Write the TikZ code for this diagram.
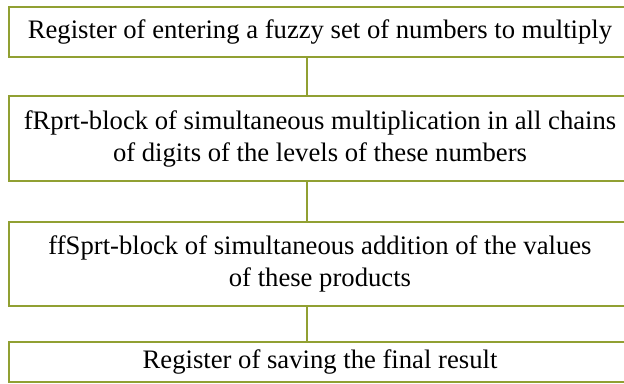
\documentclass[tikz,border=0pt]{standalone}
\usepackage{fontspec}
\setmainfont{Liberation Serif}
\definecolor{olive}{RGB}{145,160,50}
\begin{document}
\begin{tikzpicture}[x=0.75pt,y=-0.75pt,
  blk/.style={draw=olive,line width=2pt,minimum width=466.5pt,inner sep=0pt,align=center,
    font=\fontsize{20pt}{24pt}\selectfont},
  conn/.style={draw=olive,line width=2pt}]
\useasboundingbox (0,0) rectangle (624,383);
\node[blk,minimum height=37.5pt] (b1) at (320,32) {Register of entering a fuzzy set of numbers to multiply};
\node[blk,minimum height=63.75pt] (b2) at (320,138.5) {fRprt-block of simultaneous multiplication in all chains\\of digits of the levels of these numbers};
\node[blk,minimum height=63pt] (b3) at (320,264) {ffSprt-block of simultaneous addition of the values\\of these products};
\node[blk,minimum height=30pt] (b4) at (320,362) {Register of saving the final result};
\coordinate (cx) at (307,0);
\draw[conn] (b1.south -| cx) -- (b2.north -| cx);
\draw[conn] (b2.south -| cx) -- (b3.north -| cx);
\draw[conn] (b3.south -| cx) -- (b4.north -| cx);
\end{tikzpicture}
\end{document}
